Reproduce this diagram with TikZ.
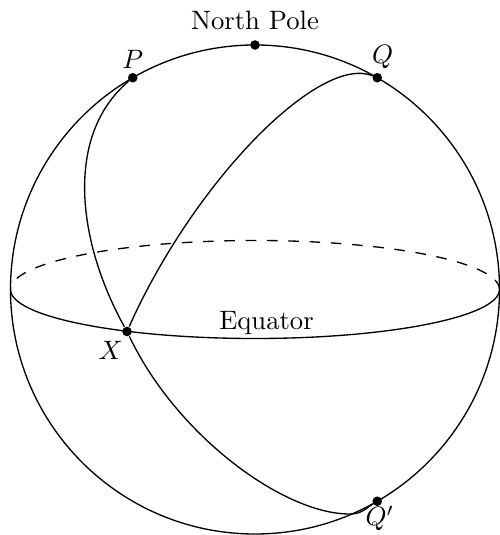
\documentclass[tikz,border=0pt]{standalone}
\usepackage{amsmath,amssymb}
\usepackage{xcolor}

\begin{document}
\begin{tikzpicture}[scale=0.66, line width=0.5pt, dot/.style={circle, fill, inner sep=0pt, minimum size=3.6pt}]

	% frame
	\useasboundingbox (-5.10,-4.91) rectangle (4.88,5.79);

	% sphere
	\draw (0,0) circle (4.89);

	% equator
	\draw[dash pattern=on 4pt off 4pt] (4.89,0) arc (0:180:4.89 and 0.98);
	\draw (-4.89,0) arc (180:360:4.89 and 0.98);
	\node (eq) at (0.23,-0.67) {Equator};

	% points
	\node[dot] (N) at (90:4.89) {};
	\node[dot] (P) at (120:4.89) {};
	\node[dot] (Q) at (60:4.89) {};
	\node[dot] (Qp) at (-60:4.89) {};
	\node[dot] (X) at (-2.56,-0.84) {};

	% labels
	\node[above=2pt] (labN) at (N) {North Pole};
	\node[above] (labP) at (P) {\(P\)};
	\node[above, xshift=2pt] (labQ) at (Q) {\(Q\)};
	\node[below, inner sep=1.5pt, xshift=1pt] (labQp) at (Qp) {\(Q'\)};
	\node[below left, xshift=2pt] (labX) at (X) {\(X\)};

	% great circles
	\draw (P) .. controls (-3.82,3.07) and (-3.55,0.95) .. (X);
	\draw (X) .. controls (-1.55,-2.95) and (0.6,-4.5) .. (1.9,-4.49)
		.. controls (2.15,-4.49) and (2.25,-4.35) .. (Qp);
	\draw (Q) .. controls (1.3,4.7) and (-1.2,2.2) .. (X);

\end{tikzpicture}
\end{document}
